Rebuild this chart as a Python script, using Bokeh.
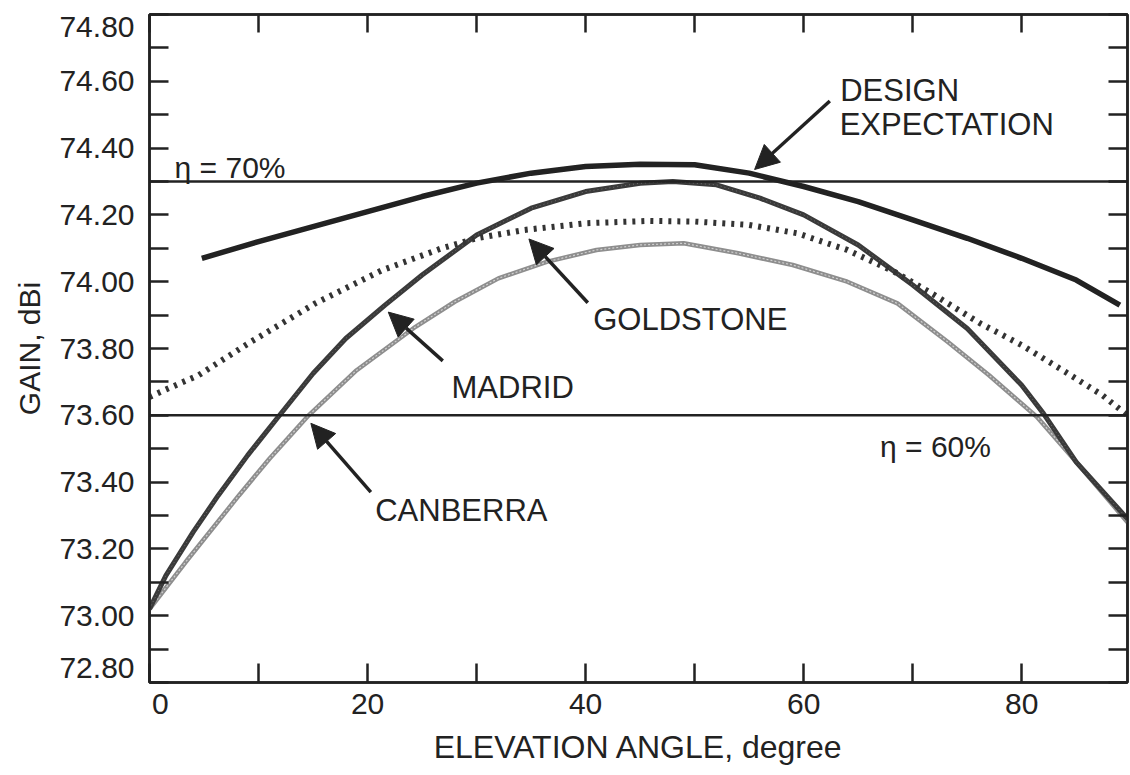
from bokeh.plotting import figure
from bokeh.models import (Range1d, FixedTicker, LinearAxis, Arrow,
                          NormalHead, Span, CustomJSTickFormatter)
from bokeh.core.properties import value
from bokeh.embed import file_html
from bokeh.resources import INLINE

FONT = "Liberation Sans"
INK = "#222222"

# ---------------- data ----------------
elev_design = [4.8, 10, 15, 20, 25, 30, 35, 40, 45, 50, 55, 60, 65, 70, 75, 80, 85, 89]
gain_design = [74.07, 74.12, 74.165, 74.21, 74.255, 74.295, 74.325, 74.345, 74.352,
               74.35, 74.325, 74.285, 74.24, 74.185, 74.13, 74.07, 74.005, 73.93]

elev_madrid = [0, 1.5, 4, 6.3, 9, 11.8, 15, 18, 21.6, 25, 30, 35, 40, 45, 48, 52, 56,
               60, 65, 70, 75, 80, 82, 85, 89.7]
gain_madrid = [73.02, 73.12, 73.25, 73.36, 73.48, 73.595, 73.725, 73.83, 73.93, 74.02,
               74.14, 74.22, 74.27, 74.295, 74.30, 74.29, 74.25, 74.20, 74.11, 73.99,
               73.86, 73.69, 73.605, 73.46, 73.29]

elev_canberra = [0, 3.3, 8.2, 11, 14.6, 19, 24.4, 28, 32, 36.5, 41, 45, 49, 54, 59, 64,
                 68.6, 73.2, 77, 81.4, 85, 89.7]
gain_canberra = [73.02, 73.16, 73.36, 73.47, 73.60, 73.735, 73.865, 73.94, 74.01, 74.06,
                 74.095, 74.11, 74.115, 74.085, 74.05, 74.00, 73.935, 73.82, 73.72,
                 73.595, 73.46, 73.28]

elev_goldstone = [0, 1.0, 4.5, 9.2, 15.2, 21.3, 26.8, 30, 34.4, 40, 45.7, 50, 55, 59.4,
                  64, 68.3, 72, 76.2, 80, 84, 87.4, 89.7]
gain_goldstone = [73.655, 73.67, 73.72, 73.818, 73.935, 74.034, 74.10, 74.13, 74.155,
                  74.175, 74.182, 74.18, 74.17, 74.145, 74.095, 74.03, 73.96, 73.875,
                  73.81, 73.73, 73.66, 73.60]

eta_levels = [74.30, 73.60]
eta_text = ["\u03b7 = 70%", "\u03b7 = 60%"]
eta_text_x = [2.3, 67.0]
eta_text_y = [74.341, 73.508]

annot_text = ["DESIGN", "EXPECTATION", "GOLDSTONE", "MADRID", "CANBERRA"]
annot_x = [63.35, 63.3, 40.7, 27.7, 20.7]
annot_y = [74.572, 74.470, 73.887, 73.682, 73.316]

arrow_x0 = [62.4, 40.2, 26.9, 20.3]
arrow_y0 = [74.541, 73.937, 73.763, 73.370]
arrow_x1 = [55.5, 34.8, 21.9, 14.8]
arrow_y1 = [74.336, 74.128, 73.909, 73.576]

# tick marks (every 0.1 dBi / every 10 degrees)
gain_tick_marks = [72.8, 72.9, 73.0, 73.1, 73.2, 73.3, 73.4, 73.5, 73.6, 73.7, 73.8,
                   73.9, 74.0, 74.1, 74.2, 74.3, 74.4, 74.5, 74.6, 74.7, 74.8]
elev_tick_marks = [0, 10, 20, 30, 40, 50, 60, 70, 80]
# where the tick labels sit (the two end labels are nudged inside the frame)
gain_label_pos = [72.842, 73.0, 73.2, 73.4, 73.6, 73.8, 74.0, 74.2, 74.4, 74.6, 74.764]
elev_label_pos = [1.0, 20, 40, 60, 80]

X_END = 89.7

# ---------------- figure ----------------
p = figure(width=1130, height=775,
           x_range=Range1d(0, X_END), y_range=Range1d(72.8, 74.8),
           output_backend="svg", toolbar_location=None,
           min_border_left=149, min_border_right=3, min_border_top=14,
           min_border_bottom=93,
           x_axis_label="ELEVATION ANGLE, degree", y_axis_label="GAIN, dBi")
p.background_fill_color = "white"
p.border_fill_color = "white"
p.outline_line_color = INK
p.outline_line_width = 2.5
p.xgrid.grid_line_color = None
p.ygrid.grid_line_color = None


def style_axis(ax, tick_len):
    ax.axis_line_color = INK
    ax.axis_line_width = 2.5
    ax.major_tick_in = 0
    ax.major_tick_out = 0
    ax.minor_tick_in = tick_len
    ax.minor_tick_out = 0
    ax.major_tick_line_color = None
    ax.minor_tick_line_color = INK
    ax.minor_tick_line_width = 2.5
    ax.major_label_text_font = FONT
    ax.major_label_text_color = INK
    ax.axis_label_text_font = FONT
    ax.axis_label_text_font_style = "normal"
    ax.axis_label_text_color = INK


xa = p.xaxis[0]
xa.ticker = FixedTicker(ticks=elev_label_pos, minor_ticks=elev_tick_marks)
xa.formatter = CustomJSTickFormatter(code="return String(Math.round(tick / 20) * 20)")
style_axis(xa, 19)
xa.major_label_text_font_size = "30px"
xa.major_label_standoff = 11
xa.axis_label_text_font_size = "32px"
xa.axis_label_standoff = 12

ya = p.yaxis[0]
ya.ticker = FixedTicker(ticks=gain_label_pos, minor_ticks=gain_tick_marks)
ya.formatter = CustomJSTickFormatter(code="return (Math.round(tick * 5) / 5).toFixed(2)")
style_axis(ya, 19)
ya.major_label_text_font_size = "30px"
ya.major_label_standoff = 15
ya.axis_label_text_font_size = "30px"
ya.axis_label_standoff = 10

top = LinearAxis(ticker=FixedTicker(ticks=[], minor_ticks=elev_tick_marks))
style_axis(top, 18)
top.major_label_standoff = 0
p.add_layout(top, "above")

right = LinearAxis(ticker=FixedTicker(ticks=[], minor_ticks=gain_tick_marks))
style_axis(right, 19)
right.major_label_standoff = 0
p.add_layout(right, "right")

# efficiency lines
for lv in eta_levels:
    p.add_layout(Span(location=lv, dimension="width", line_color=INK, line_width=2.5))

# curves
p.line(elev_canberra, gain_canberra, line_color="#8e8e8e", line_width=4.5)
p.line(elev_canberra, gain_canberra, line_color="#d0d0d0", line_width=1.2, line_dash="2 2")
p.line(elev_madrid, gain_madrid, line_color="#3a3a3a", line_width=5)
p.line(elev_madrid, gain_madrid, line_color="#707070", line_width=1.0, line_dash="1 3")
p.line(elev_goldstone, gain_goldstone, line_color="#333333", line_width=6,
       line_dash="3 6", line_cap="butt")
p.line(elev_design, gain_design, line_color=INK, line_width=5.5)

# arrows
for x0, y0, x1, y1 in zip(arrow_x0, arrow_y0, arrow_x1, arrow_y1):
    p.add_layout(Arrow(end=NormalHead(size=24, fill_color=INK, line_color=INK),
                       x_start=x0, y_start=y0, x_end=x1, y_end=y1,
                       line_color=INK, line_width=3.5))

# texts
p.text(annot_x, annot_y, text=annot_text, text_font=value(FONT),
       text_font_size=value("31px"), text_color=INK, text_align="left",
       text_baseline="alphabetic")
p.text(eta_text_x, eta_text_y, text=eta_text, text_font=value(FONT),
       text_font_size=value("30px"), text_color=INK, text_align="left",
       text_baseline="alphabetic")

open("out.html", "w").write(file_html(p, INLINE))
